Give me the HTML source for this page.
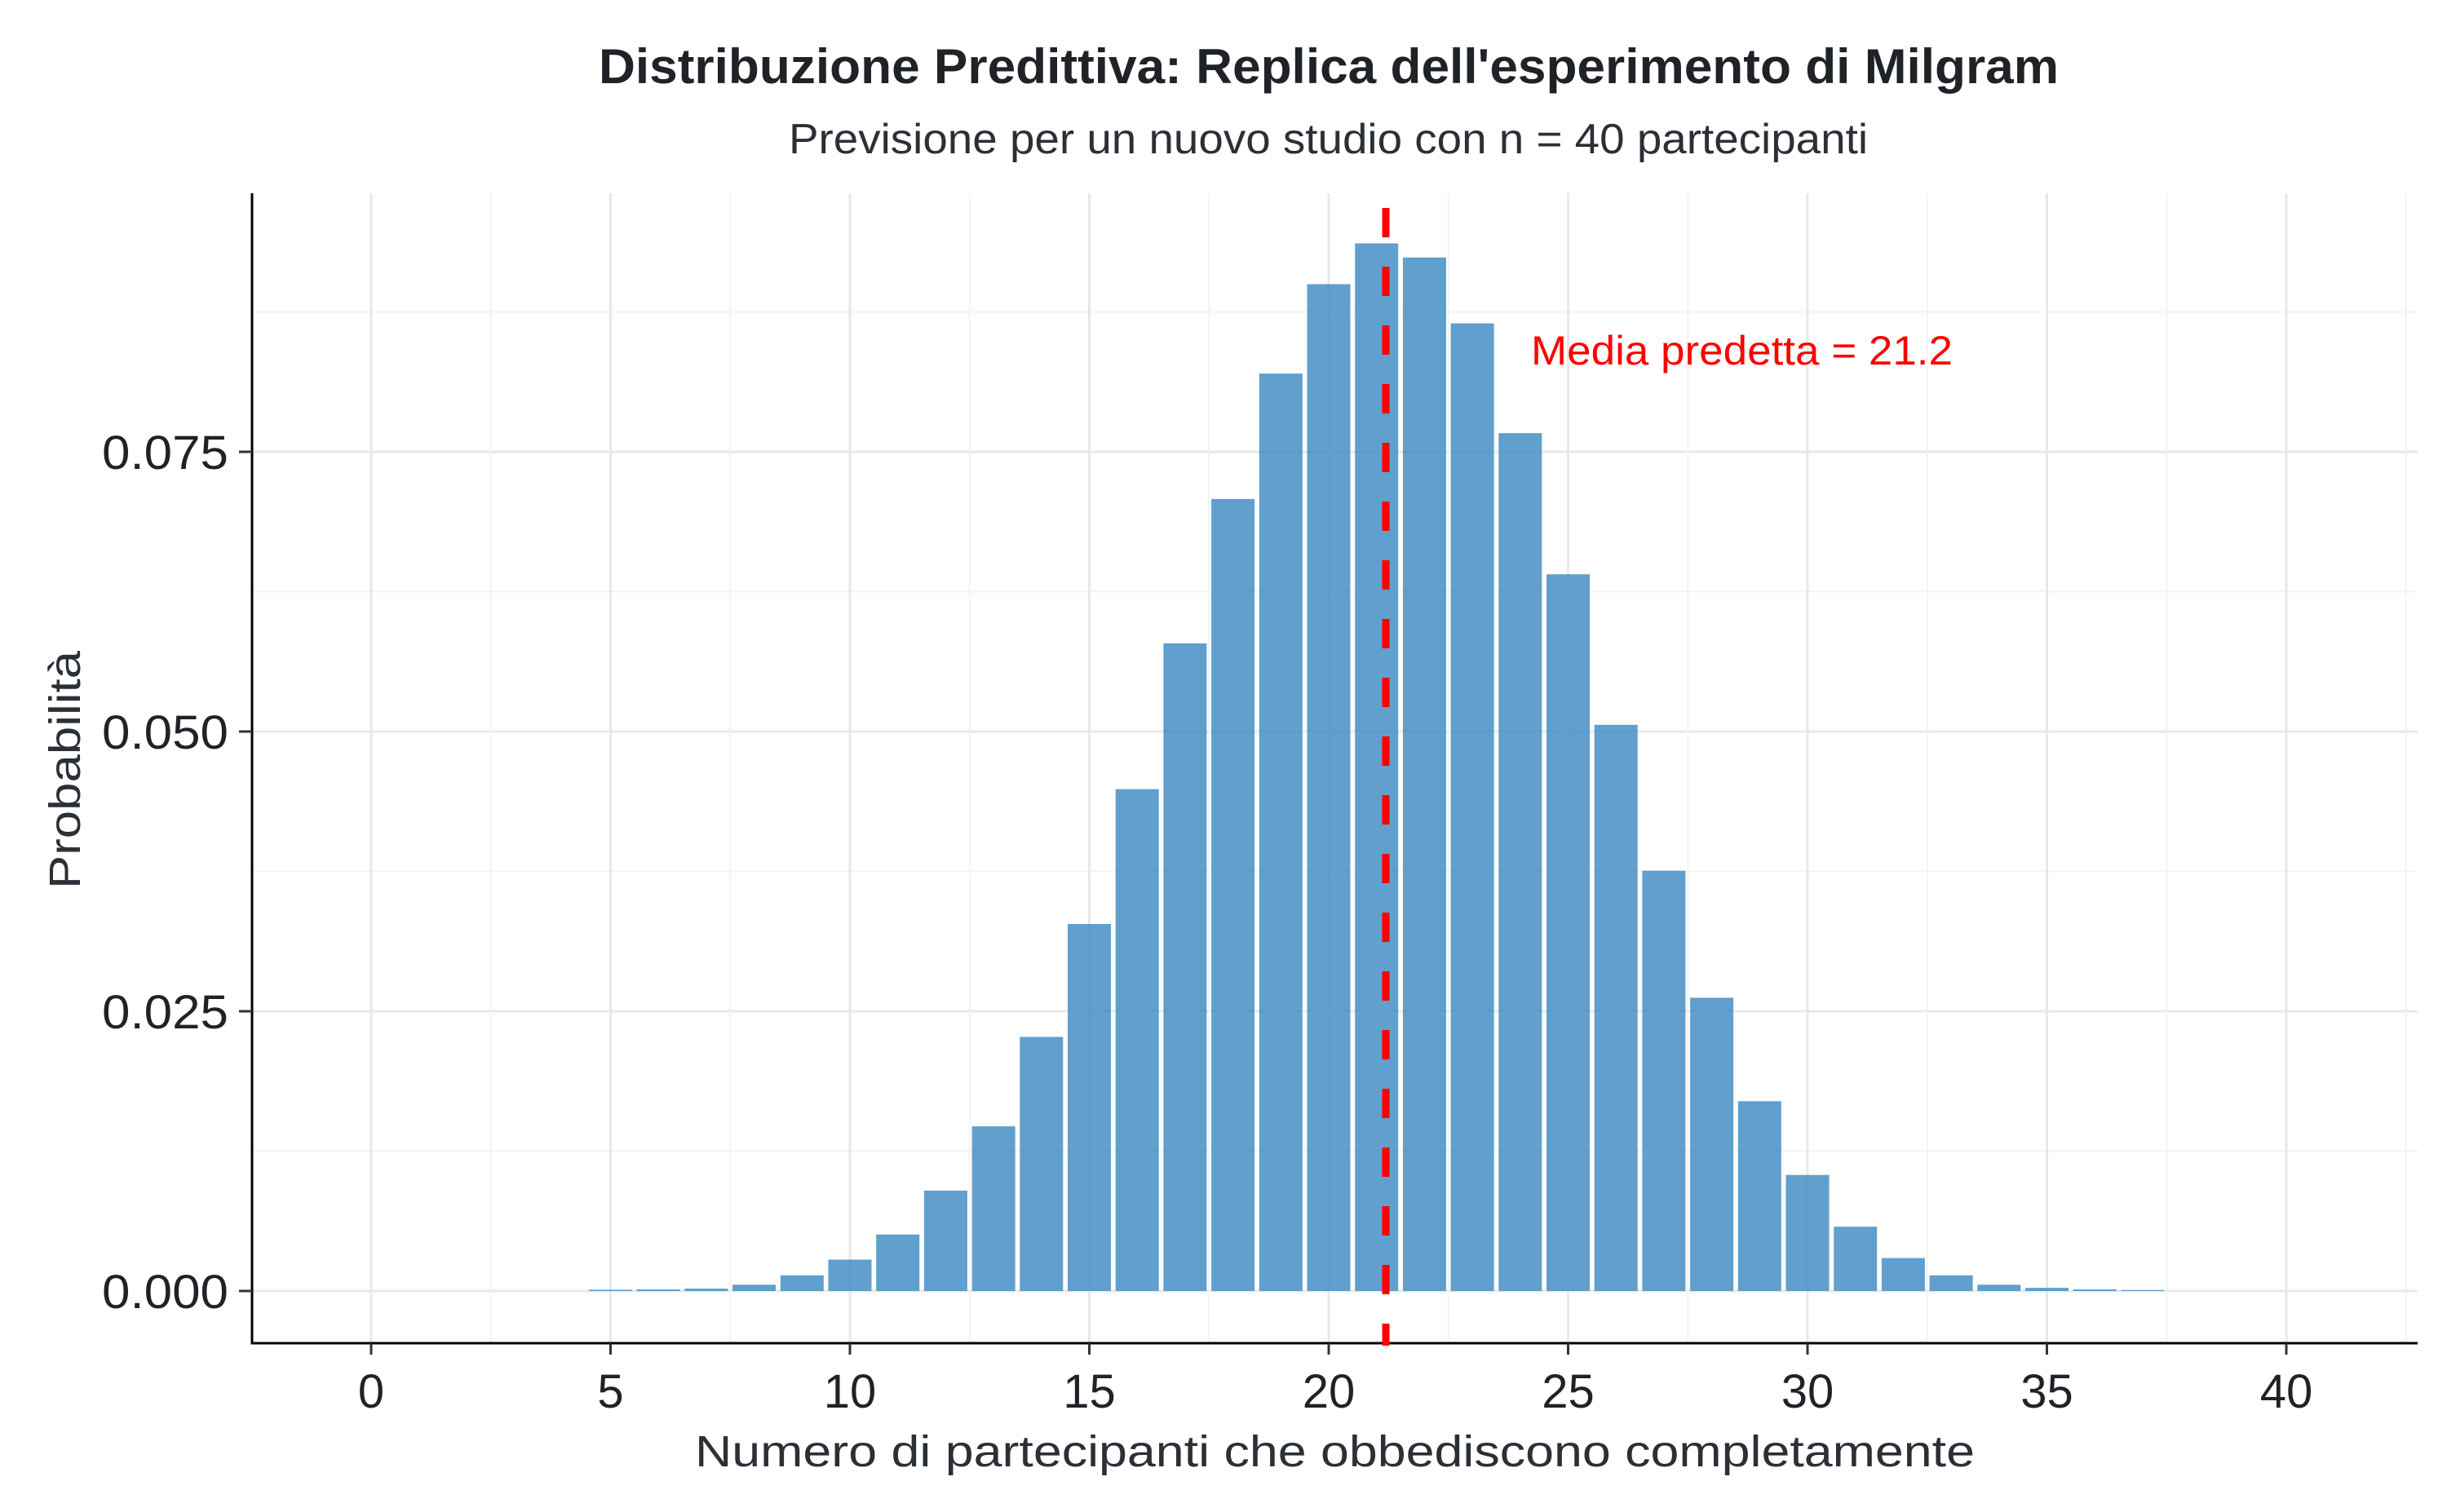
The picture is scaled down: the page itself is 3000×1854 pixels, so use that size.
<!DOCTYPE html>
<html><head><meta charset="utf-8"><style>html,body{margin:0;padding:0;background:#fff}svg{display:block}</style></head>
<body>
<svg id="s" width="3000" height="1854" xmlns="http://www.w3.org/2000/svg" font-family="Liberation Sans, sans-serif">
<rect width="3000" height="1854" fill="#fff"/>
<g id="grid"></g>
<g id="bars"></g>
<g id="axes"></g>
<line x1="1699" y1="255" x2="1699" y2="1650" stroke="#ff0000" stroke-width="9" stroke-dasharray="36 36"/>
<text x="1877" y="447" font-size="50" fill="#ff0000" textLength="517" lengthAdjust="spacingAndGlyphs">Media predetta = 21.2</text>
<text x="734" y="102" font-size="60" font-weight="bold" fill="#1f2328" textLength="1790" lengthAdjust="spacingAndGlyphs">Distribuzione Predittiva: Replica dell'esperimento di Milgram</text>
<text x="967" y="188" font-size="52" fill="#2b2f36" textLength="1323" lengthAdjust="spacingAndGlyphs">Previsione per un nuovo studio con n = 40 partecipanti</text>
<text x="852" y="1798" font-size="54" fill="#2b2f36" textLength="1569" lengthAdjust="spacingAndGlyphs">Numero di partecipanti che obbediscono completamente</text>
<text transform="translate(98,1090) rotate(-90)" font-size="54" fill="#2b2f36" textLength="292" lengthAdjust="spacingAndGlyphs">Probabilità</text>
</svg>
<script>
var NS="http://www.w3.org/2000/svg";
function el(p,t,a,txt){var e=document.createElementNS(NS,t);for(var k in a)e.setAttribute(k,a[k]);if(txt!=null)e.textContent=txt;document.getElementById(p).appendChild(e);return e;}
var X0=455,U=58.7,Y0=1583,K=13720,L=309,R=2964,T=237,B=1647;
function X(v){return X0+v*U;} function Y(v){return Y0-v*K;}
for(var i=0;i<=8;i++){var v=i*0.0125;var y=Y(v);if(y<T)break;el("grid","line",{x1:L,x2:R,y1:y,y2:y,stroke:i%2?"#f3f3f3":"#e8e8e8","stroke-width":i%2?2:3});}
for(var j=0;j<=17;j++){var xv=j*2.5;var x=X(xv);el("grid","line",{x1:x,x2:x,y1:T,y2:B,stroke:j%2?"#f3f3f3":"#e8e8e8","stroke-width":j%2?2:3});}
var h={5:0.8,6:1,7:1.5,8:4,9:10,10:20,11:36,12:64,13:105,14:162,15:234,16:320,17:413,18:505,19:585,20:642,21:668,22:659,23:617,24:547,25:457,26:361,27:268,28:187,29:121,30:74,31:41,32:21,33:10,34:4,35:2,36:1,37:0.6};
for(var k in h){var hh=h[k]*1.923;var c=X(+k);el("bars","rect",{x:c-26.5,y:Y0-hh,width:53,height:hh,fill:"#3a87c0","fill-opacity":0.8});}
el("axes","line",{x1:L,x2:L,y1:T,y2:B+1.5,stroke:"#000","stroke-width":3});
el("axes","line",{x1:L,x2:R,y1:B,y2:B,stroke:"#000","stroke-width":3});
var yl=["0.000","0.025","0.050","0.075"];
for(var i=0;i<4;i++){var y=Y(i*0.025);el("axes","line",{x1:L-16,x2:L,y1:y,y2:y,stroke:"#333","stroke-width":3});
el("axes","text",{x:280,y:y+21,"font-size":58,fill:"#1f2328","text-anchor":"end",textLength:155,lengthAdjust:"spacingAndGlyphs"},yl[i]);}
for(var j=0;j<=8;j++){var x=X(j*5);el("axes","line",{x1:x,x2:x,y1:B,y2:B+14,stroke:"#333","stroke-width":3});
el("axes","text",{x:x,y:1726,"font-size":58,fill:"#1f2328","text-anchor":"middle"},String(j*5));}
</script>
</body></html>
